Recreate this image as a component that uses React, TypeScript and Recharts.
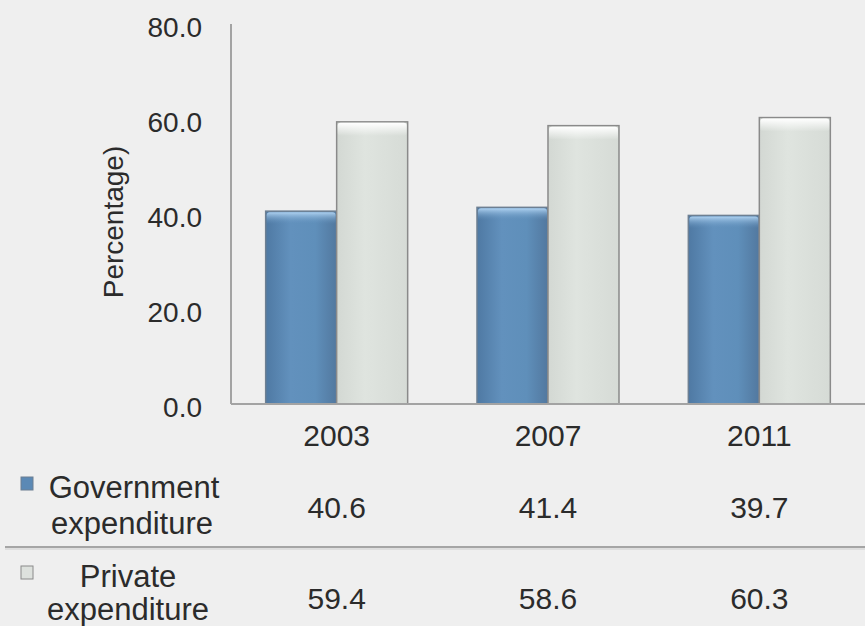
import { Bar, BarChart, XAxis, YAxis } from "recharts";

const years = ["2003", "2007", "2011"];
const government = [40.6, 41.4, 39.7];
const privateExp = [59.4, 58.6, 60.3];
const yTicks = [0, 20, 40, 60, 80];

const chartData = years.map((year, i) => ({
  year,
  government: government[i],
  private: privateExp[i],
}));

const FONT = "'Liberation Sans', Arial, sans-serif";
const TEXT = "#2b2b2b";

function GovBar(props: any) {
  const { x, y, width, height } = props;
  if (!height || height <= 0) return null;
  return (
    <g>
      <rect x={x} y={y} width={width} height={height} fill="url(#govFill)" stroke="#6d7f92" strokeWidth={1.5} />
      <rect x={x + 1} y={y + 1} width={width - 2} height={12} fill="url(#govTop)" rx={3} />
    </g>
  );
}

function PrivBar(props: any) {
  const { x, y, width, height } = props;
  if (!height || height <= 0) return null;
  return (
    <g>
      <rect x={x} y={y} width={width} height={height} fill="url(#privFill)" stroke="#8a8a8a" strokeWidth={1.5} />
      <rect x={x + 1} y={y + 1} width={width - 2} height={13} fill="url(#privTop)" rx={3} />
    </g>
  );
}

function TableTick(props: any) {
  const { x, payload } = props;
  const i = payload.index;
  return (
    <g fontFamily={FONT} fontSize={30} fill={TEXT} textAnchor="middle">
      <text x={x} y={446}>{payload.value}</text>
      <text x={x} y={518}>{government[i].toFixed(1)}</text>
      <text x={x} y={609}>{privateExp[i].toFixed(1)}</text>
    </g>
  );
}

export default function App() {
  return (
    <div
      style={{
        position: "absolute",
        left: 0,
        top: 0,
        width: 865,
        height: 626,
        background: "#efefef",
        overflow: "hidden",
      }}
    >
      <BarChart
        width={865}
        height={626}
        data={chartData}
        margin={{ top: 24, right: 0, left: 0, bottom: 0 }}
        barCategoryGap="16.4%"
        barGap={0}
      >
        <defs>
          <linearGradient id="govFill" x1="0" y1="0" x2="1" y2="0">
            <stop offset="0%" stopColor="#4f79a3" />
            <stop offset="35%" stopColor="#6291bd" />
            <stop offset="70%" stopColor="#5f8fba" />
            <stop offset="100%" stopColor="#52789f" />
          </linearGradient>
          <linearGradient id="govTop" x1="0" y1="0" x2="0" y2="1">
            <stop offset="0%" stopColor="#b4d6f4" stopOpacity={0.95} />
            <stop offset="100%" stopColor="#6291bd" stopOpacity={0} />
          </linearGradient>
          <linearGradient id="privFill" x1="0" y1="0" x2="1" y2="0">
            <stop offset="0%" stopColor="#d3d8d3" />
            <stop offset="40%" stopColor="#dfe4df" />
            <stop offset="100%" stopColor="#d6dbd6" />
          </linearGradient>
          <linearGradient id="privTop" x1="0" y1="0" x2="0" y2="1">
            <stop offset="0%" stopColor="#ffffff" stopOpacity={1} />
            <stop offset="100%" stopColor="#ffffff" stopOpacity={0} />
          </linearGradient>
        </defs>
        <XAxis
          dataKey="year"
          height={222}
          axisLine={{ stroke: "#a3a3a3", strokeWidth: 2 }}
          tickLine={false}
          tick={<TableTick />}
          interval={0}
        />
        <YAxis
          width={231}
          domain={[0, 80]}
          ticks={yTicks}
          tickFormatter={(v: number) => v.toFixed(1)}
          axisLine={{ stroke: "#a3a3a3", strokeWidth: 2 }}
          tickLine={false}
          tickSize={0}
          tickMargin={29}
          tick={{ fill: TEXT, fontSize: 28, fontFamily: FONT, dy: 3 }}
        />
        <Bar dataKey="government" shape={<GovBar />} isAnimationActive={false} />
        <Bar dataKey="private" shape={<PrivBar />} isAnimationActive={false} />
      </BarChart>
      <svg
        width={865}
        height={626}
        style={{ position: "absolute", left: 0, top: 0, pointerEvents: "none" }}
      >
        <text
          x={123}
          y={222}
          transform="rotate(-90, 123, 222)"
          fontFamily={FONT}
          fontSize={28}
          fill={TEXT}
          textAnchor="middle"
        >
          Percentage)
        </text>
        <g fontFamily={FONT} fontSize={31} fill={TEXT} textAnchor="middle">
          <rect x={21} y={477} width={12} height={13} fill="#5b89b5" stroke="#6d7f92" />
          <text x={134} y={498}>Government</text>
          <text x={132} y={534}>expenditure</text>
          <rect x={21} y={566} width={12} height={13} fill="#dde1dd" stroke="#8a8a8a" />
          <text x={128} y={587}>Private</text>
          <text x={128} y={620}>expenditure</text>
        </g>
        <line x1={5} x2={865} y1={547} y2={547} stroke="#a5a5a5" strokeWidth={2} />
        <line x1={5} x2={865} y1={549} y2={549} stroke="#cdcdcd" strokeWidth={1} />
      </svg>
    </div>
  );
}
